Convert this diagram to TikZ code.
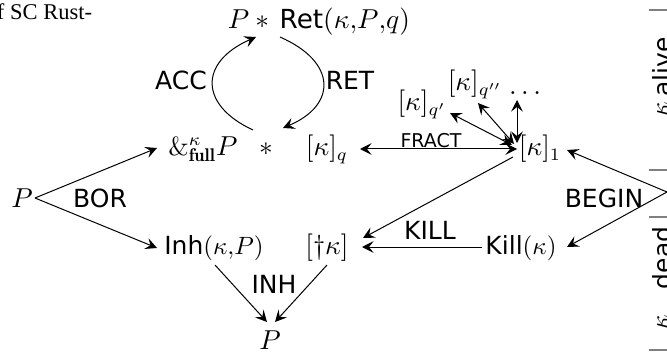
\documentclass[tikz,border=0pt]{standalone}
\usepackage{fontspec}
\setsansfont{DejaVu Sans}
\newfontfamily\pagefont{Liberation Serif}
\usetikzlibrary{arrows.meta,calc}
\begin{document}
\begin{tikzpicture}[x=0.4pt,y=0.4pt,
  every node/.style={inner sep=0pt,outer sep=0pt,anchor=base},
  mth/.style={font=\fontsize{10.5}{12}\selectfont},
  lbl/.style={font=\sffamily},
  tip/.tip={Stealth[length=4.6pt,width=4.6pt,inset=1.8pt]},
  arr/.style={-tip},
  darr/.style={tip-tip},
  tick/.style={draw=gray,line width=0.6pt}]
\useasboundingbox (0,0) rectangle (667,354);
% page text (cropped)
\node[font=\pagefont\fontsize{9}{11}\selectfont, anchor=base west] (pg) at (-3,334) {f SC Rust-};
% nodes
\node[mth] (top) at (319,325) {$P \ast \,\textsf{Ret}(\kappa{,}P{,}q)$};
\node[mth] (amp) at (203,199) {$\&^{\kappa}_{\mathbf{full}}P$};
\node[mth] (star) at (266,199) {$\ast$};
\node[mth] (kq) at (327,198) {$[\kappa]_q$};
\node[mth] (k1) at (540,198) {$[\kappa]_1$};
\node[mth] (kq1) at (422,243) {$[\kappa]_{q'}$};
\node[mth] (kq2) at (475,263) {$[\kappa]_{q''}$};
\node[mth] (dots) at (525,259) {$\dots$};
\node[mth] (Pl) at (22,147) {$P$};
\node (inh) at (214,100) {$\textsf{Inh}(\kappa{,}P)$};
\node[mth] (dk) at (327,100) {$[\dagger\kappa]$};
\node (killk) at (521,100) {$\textsf{Kill}(\kappa)$};
\node[mth] (Pb) at (270,5) {$P$};
% labels
\node[lbl] (acc) at (181,264) {ACC};
\node[lbl] (ret) at (350,264) {RET};
\node[font=\sffamily\fontsize{7.6}{9}\selectfont] (fract) at (431,207) {FRACT};
\node[lbl] (bor) at (100,147) {BOR};
\node[lbl] (killl) at (430,114) {KILL};
\node[lbl] (inhl) at (274,61) {INH};
\node[lbl] (begin) at (604,147) {BEGIN};
\node[lbl,rotate=90] (alive) at (671,287) {alive};
\node[rotate=90] (kalive) at (668,245) {$\kappa$};
\node[lbl,rotate=90] (dead) at (671,96) {dead};
\node[rotate=90] (kdead) at (668,32) {$\kappa$};
\coordinate (src) at (667,162);
% ticks
\draw[tick] (649,344) -- (667,344);
\draw[tick] (649,184) -- (667,184);
\draw[tick] (649,137) -- (667,137);
\draw[tick] (649,4) -- (667,4);
% connectors
\draw[arr] ($(Pl.base)+(13,9)$) -- ($(amp.base)+(-46,7)$);
\draw[arr] ($(Pl.base)+(13,9)$) -- ($(inh.base)+(-57,6)$);
\draw[arr] ($(star.base)+(-13,25)$) .. controls +(-54,25) and +(-57,-25) .. ($(top.base)+(-63,-8)$);
\draw[arr] ($(top.base)+(-39,-8)$) .. controls +(57,-25) and +(54,23) .. ($(star.base)+(17,27)$);
\draw[darr] ($(kq.base)+(33,7)$) -- ($(k1.base)+(-23,7)$);
\draw[darr] ($(kq1.base)+(28,-2)$) -- ($(k1.base)+(-28,11)$);
\draw[darr] ($(kq2.base)+(3,-12)$) -- ($(k1.base)+(-26,12)$);
\draw[darr] ($(dots.base)+(-8,-5)$) -- ($(k1.base)+(-23,13)$);
\draw[arr] ($(k1.base)+(-27,-1)$) -- ($(dk.base)+(36,16)$);
\draw[arr] ($(killk.base)+(-39,7)$) -- ($(dk.base)+(35,7)$);
\draw[arr] (src) -- ($(k1.base)+(27,6)$);
\draw[arr] (src) -- ($(killk.base)+(46,7)$);
\draw[arr] ($(inh.base)+(1,-11)$) -- ($(Pb.base)+(-3,27)$);
\draw[arr] ($(dk.base)+(0,-11)$) -- ($(Pb.base)+(5,27)$);
\end{tikzpicture}
\end{document}
